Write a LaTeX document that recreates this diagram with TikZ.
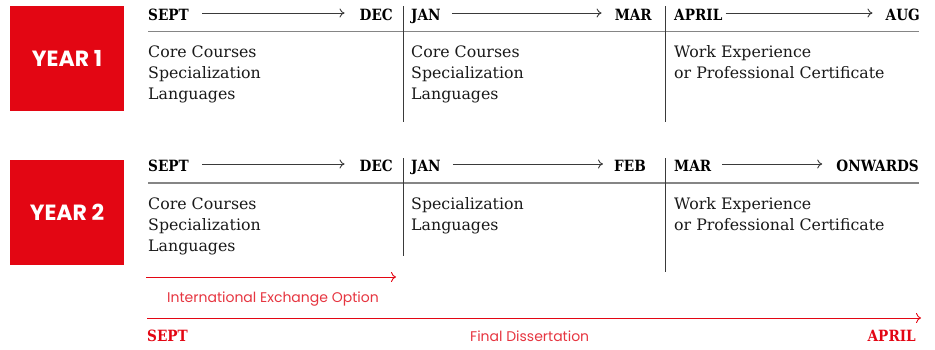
\documentclass[tikz,border=0pt]{standalone}
\usepackage{fontspec}
\usetikzlibrary{calc,arrows.meta}
\setmainfont{DejaVu Serif}
\newfontfamily\hdrfont[FakeStretch=0.88]{DejaVu Serif}
\newfontfamily\yrfont{Poppins}
\definecolor{brandred}{HTML}{E30613}
\definecolor{lightred}{HTML}{E63540}
\definecolor{arrgray}{HTML}{3A3A3A}
\definecolor{rulegray}{HTML}{858585}
\begin{document}
\begin{tikzpicture}[x=1pt,y=-1pt,
  yearbox/.style={fill=brandred,draw=none,minimum width=114pt,minimum height=105pt,inner sep=0pt,
    text=white,font=\yrfont\bfseries\fontsize{22}{22}\selectfont},
  hdr/.style={inner sep=0pt,font=\hdrfont\bfseries\fontsize{15.5}{15.5}\selectfont,text=black},
  body/.style={inner sep=0pt,anchor=base west,font=\fontsize{15.8}{21}\selectfont,text=black!90},
  hdrarrow/.style={draw=arrgray,line width=0.9pt,-{To[length=5pt,width=9pt]}},
  hrule/.style={draw=rulegray,line width=1.6pt},
  vrule/.style={draw=arrgray,line width=0.9pt},
  redline/.style={draw=brandred,line width=0.9pt},
  redarrow/.style={redline,-{To[length=5pt,width=10pt]}},
  redlabel/.style={inner sep=0pt,anchor=base west,text=lightred,font=\yrfont\fontsize{14}{14}\selectfont},
  redhdr/.style={hdr,text=brandred}
]
\useasboundingbox (0,0) rectangle (935,349);

% ---------- YEAR 1 ----------
\node[yearbox] (y1) at (67,58.5) {YEAR 1};

\node[hdr,anchor=base west] (a1) at (148,20) {SEPT};
\node[hdr,anchor=base east] (b1) at (393,20) {DEC};
\node[hdr,anchor=base west] (c1) at (411,20) {JAN};
\node[hdr,anchor=base east] (d1) at (652,20) {MAR};
\node[hdr,anchor=base west] (e1) at (674,20) {APRIL};
\node[hdr,anchor=base east] (f1) at (920,20) {AUG};

\draw[hdrarrow] ($(a1.base east)+(13,-7)$) -- ($(b1.base west)+(-15,-7)$);
\draw[hdrarrow] ($(c1.base east)+(11,-7)$) -- ($(d1.base west)+(-13,-7)$);
\draw[hdrarrow] ($(e1.base east)+(3,-7)$) -- ($(f1.base west)+(-13,-7)$);

\coordinate (h1l) at (148,31.5);
\coordinate (h1r) at (919,31.5);
\draw[hrule] (h1l) -- (h1r);

\coordinate (v1at) at (403,6);  \coordinate (v1ab) at (403,122);
\coordinate (v1bt) at (665,6);  \coordinate (v1bb) at (665,122);
\draw[vrule] (v1at) -- (v1ab);
\draw[vrule] (v1bt) -- (v1bb);

\node[body] (p1a) at (148,57) {Core Courses};
\node[body] (p1b) at (148,78) {Specialization};
\node[body] (p1c) at (148,99) {Languages};
\node[body] (q1a) at (411,57) {Core Courses};
\node[body] (q1b) at (411,78) {Specialization};
\node[body] (q1c) at (411,99) {Languages};
\node[body] (r1a) at (674,57) {Work Experience};
\node[body] (r1b) at (674,78) {or Professional Certificate};

% ---------- YEAR 2 ----------
\node[yearbox] (y2) at (67,212) {YEAR 2};

\node[hdr,anchor=base west] (a2) at (148,171) {SEPT};
\node[hdr,anchor=base east] (b2) at (393,171) {DEC};
\node[hdr,anchor=base west] (c2) at (411,171) {JAN};
\node[hdr,anchor=base east] (d2) at (646,171) {FEB};
\node[hdr,anchor=base west] (e2) at (674,171) {MAR};
\node[hdr,anchor=base east] (f2) at (919,171) {ONWARDS};

\draw[hdrarrow] ($(a2.base east)+(13,-7)$) -- ($(b2.base west)+(-15,-7)$);
\draw[hdrarrow] ($(c2.base east)+(12,-7)$) -- ($(d2.base west)+(-11,-7)$);
\draw[hdrarrow] ($(e2.base east)+(11,-7)$) -- ($(f2.base west)+(-14,-7)$);

\coordinate (h2l) at (148,183);
\coordinate (h2r) at (919,183);
\draw[hrule] (h2l) -- (h2r);

\coordinate (v2at) at (403,158);  \coordinate (v2ab) at (403,256);
\coordinate (v2bt) at (665,158);  \coordinate (v2bb) at (665,272);
\draw[vrule] (v2at) -- (v2ab);
\draw[vrule] (v2bt) -- (v2bb);

\node[body] (p2a) at (148,209) {Core Courses};
\node[body] (p2b) at (148,230) {Specialization};
\node[body] (p2c) at (148,251) {Languages};
\node[body] (q2a) at (411,209) {Specialization};
\node[body] (q2b) at (411,230) {Languages};
\node[body] (r2a) at (674,209) {Work Experience};
\node[body] (r2b) at (674,230) {or Professional Certificate};

% ---------- red timelines ----------
\coordinate (ie1) at (146,277);
\coordinate (ie2) at (396,277);
\draw[redarrow] (ie1) -- (ie2);
\node[redlabel] (iel) at (167,302) {International Exchange Option};

\coordinate (fd1) at (147,318);
\coordinate (fd2) at (921,318);
\draw[redarrow] (fd1) -- (fd2);
\node[redhdr,anchor=base west] (fds) at (147,341) {SEPT};
\node[redlabel] (fdl) at (470,341) {Final Dissertation};
\node[redhdr,anchor=base east] (fde) at (916,341) {APRIL};
\end{tikzpicture}
\end{document}
